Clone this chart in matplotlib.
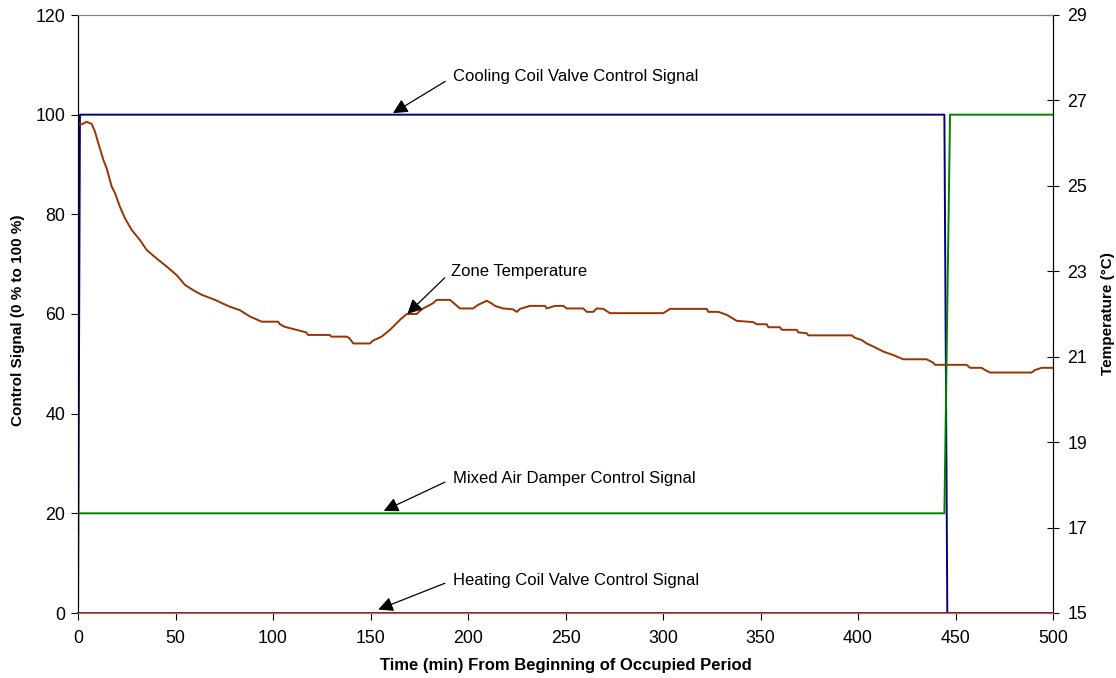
import matplotlib
matplotlib.use("Agg")
import matplotlib.pyplot as plt

plt.rcParams['font.family'] = ['Liberation Sans', 'DejaVu Sans']

# control signals (%)
cool_t = [0, 1, 444.3, 445.8, 500]
cool_v = [0, 100, 100, 0, 0]
damper_t = [0, 444.3, 447.2, 500]
damper_v = [20, 20, 100, 100]
heat_t = [0, 500]
heat_v = [0, 0]

# zone temperature (deg C)
temp_t = [0, 1.9, 4.4, 7, 8.7, 10.4, 13, 14.7, 17.3, 19, 21.5, 24.1, 27.5, 31.8,
          35.2, 40.3, 45.5, 50.6, 54.9, 59, 63.4, 70.3, 74, 77.9, 83, 88.2, 94.2,
          102.6, 103.5, 106, 112, 117, 118, 129, 130, 137.8, 139, 141.2, 149.7,
          151.4, 155.7, 160, 165, 168.6, 173.7, 175, 177, 182, 183.9, 190.8,
          195.9, 202.6, 205, 209.6, 212, 213.8, 218, 223, 225, 226.7, 231.8,
          239.5, 240.3, 244.6, 248.9, 250.6, 259.1, 260.9, 264.3, 266, 269.4,
          272.8, 300.2, 303.6, 322.4, 323.2, 328.4, 332.7, 337.8, 346.3, 348.1,
          353.2, 354, 360, 360.9, 368.6, 369.4, 373.7, 374.5, 396.8, 398.5,
          401.9, 404.4, 407.8, 413, 418, 423.2, 435.2, 438.6, 439.5, 455.7,
          457.4, 463.4, 465.1, 467.7, 489, 490.8, 494.2, 500]
temp_v = [26.44, 26.44, 26.50, 26.45, 26.27, 26.00, 25.61, 25.41, 24.98, 24.83,
          24.51, 24.24, 23.97, 23.73, 23.50, 23.30, 23.11, 22.91, 22.68, 22.56,
          22.45, 22.33, 22.25, 22.17, 22.09, 21.94, 21.82, 21.82, 21.76, 21.70,
          21.63, 21.57, 21.51, 21.51, 21.47, 21.47, 21.44, 21.31, 21.31, 21.38,
          21.47, 21.63, 21.86, 22.00, 22.00, 22.06, 22.13, 22.25, 22.33, 22.33,
          22.13, 22.13, 22.21, 22.31, 22.25, 22.19, 22.13, 22.11, 22.05, 22.12,
          22.19, 22.19, 22.13, 22.19, 22.19, 22.13, 22.13, 22.05, 22.05, 22.13,
          22.12, 22.02, 22.02, 22.12, 22.12, 22.05, 22.05, 21.98, 21.84, 21.81,
          21.76, 21.76, 21.69, 21.69, 21.63, 21.63, 21.57, 21.55, 21.50, 21.50,
          21.44, 21.39, 21.31, 21.24, 21.12, 21.04, 20.94, 20.94, 20.86, 20.81,
          20.81, 20.74, 20.74, 20.69, 20.63, 20.63, 20.69, 20.74, 20.74]

left_ticks = [0, 20, 40, 60, 80, 100, 120]
right_ticks = [15, 17, 19, 21, 23, 25, 27, 29]
x_ticks = [0, 50, 100, 150, 200, 250, 300, 350, 400, 450, 500]

fig = plt.figure(figsize=(11.16, 6.78), dpi=100)
ax = fig.add_axes([78 / 1116, 1 - 613 / 678, (1053 - 78) / 1116, (613 - 15) / 678])
ax2 = ax.twinx()

ax.plot(cool_t, cool_v, color='#000080', lw=1.4, zorder=3)
ax.plot(damper_t, damper_v, color='#008000', lw=1.4, zorder=3)
ax.plot(heat_t, heat_v, color='#CC0000', lw=1.4, zorder=4, clip_on=False)
ax2.plot(temp_t, temp_v, color='#993300', lw=1.4)

ax.set_xlim(0, 500)
ax.set_ylim(0, 120)
ax2.set_ylim(15, 29)
ax.set_xticks(x_ticks)
ax.set_yticks(left_ticks)
ax2.set_yticks(right_ticks)

ax.tick_params(axis='both', direction='out', length=5, width=0.8, labelsize=12.8, pad=4)
ax.tick_params(axis='x', pad=7)
ax2.tick_params(axis='y', direction='inout', length=9, width=0.8, labelsize=12.8, pad=6)

for a in (ax, ax2):
    a.spines['top'].set_color('#808080')
    a.spines['bottom'].set_color('#808080')

ax.set_xlabel('Time (min) From Beginning of Occupied Period', fontsize=12, fontweight='bold', labelpad=8)
ax.set_ylabel('Control Signal (0 % to 100 %)', fontsize=11, fontweight='bold')
ax2.set_ylabel('Temperature (°C)', fontsize=11, fontweight='bold', labelpad=10)
ax.yaxis.set_label_coords(-0.054, 0.49)

arrow = dict(arrowstyle='-|>', color='black', lw=0.9, mutation_scale=22,
             shrinkA=4, shrinkB=0, relpos=(0, 0.5))
notes = [
    ('Cooling Coil Valve Control Signal', (161.5, 100.3), (192.2, 107.6)),
    ('Mixed Air Damper Control Signal', (156.8, 20.5), (192.2, 27.0)),
    ('Heating Coil Valve Control Signal', (154.0, 0.7), (192.2, 6.6)),
]
for label, tip, txt in notes:
    ax.annotate(label, xy=tip, xytext=txt, fontsize=12, va='center', ha='left',
                arrowprops=arrow, zorder=6)
ax2.annotate('Zone Temperature', xy=(168.9, 22.0), xytext=(191.5, 23.0), fontsize=12,
             va='center', ha='left', arrowprops=arrow, zorder=6)

fig.savefig('out.png', dpi=100)
